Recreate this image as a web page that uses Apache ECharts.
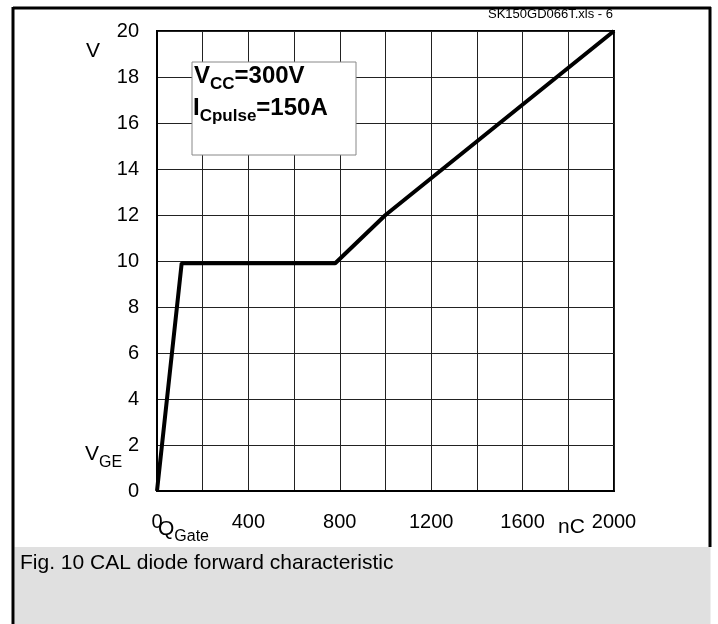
<!DOCTYPE html>
<html>
<head>
<meta charset="utf-8">
<script src="https://cdn.jsdelivr.net/npm/echarts@6/dist/echarts.min.js"></script>
<style>
html,body{margin:0;padding:0;background:#fff;}
#c{width:718px;height:624px;}
</style>
</head>
<body>
<div id="c"></div>
<script>
// Data
const gateCharge = [0, 108, 780, 1000, 2000];      // nC
const gateVoltage = [0, 9.9, 9.9, 12, 20];          // V
const xTickLabels = [0, 400, 800, 1200, 1600, 2000];
const yTickLabels = [0, 2, 4, 6, 8, 10, 12, 14, 16, 18, 20];

const points = gateCharge.map((q, i) => [q, gateVoltage[i]]);
const FONT = '"Liberation Sans", Arial, sans-serif';

const chart = echarts.init(document.getElementById('c'), null, {renderer: 'canvas'});
chart.setOption({
  animation: false,
  backgroundColor: '#fff',
  grid: {left: 157, top: 31, width: 457, height: 460, show: true, borderColor: '#000', borderWidth: 2, backgroundColor: 'transparent'},
  xAxis: {
    type: 'value', min: 0, max: 2000, interval: 200,
    axisLine: {show: true, lineStyle: {color: '#000', width: 2}},
    axisTick: {show: false},
    splitLine: {show: true, lineStyle: {color: '#222', width: 1}},
    axisLabel: {
      fontFamily: FONT, fontSize: 20, color: '#000', margin: 21,
      formatter: v => xTickLabels.indexOf(v) >= 0 ? String(v) : ''
    }
  },
  yAxis: {
    type: 'value', min: 0, max: 20, interval: 2,
    axisLine: {show: true, lineStyle: {color: '#000', width: 2}},
    axisTick: {show: false},
    splitLine: {show: true, lineStyle: {color: '#222', width: 1}},
    axisLabel: {
      fontFamily: FONT, fontSize: 20, color: '#000', margin: 18,
      formatter: v => yTickLabels.indexOf(v) >= 0 ? String(v) : ''
    }
  },
  series: [{
    type: 'line', data: points, symbol: 'none',
    lineStyle: {color: '#000', width: 4}, z: 5
  }],
  graphic: [
    // outer frame
    {type: 'line', shape: {x1: 13, y1: 8, x2: 711, y2: 8}, style: {stroke: '#000', lineWidth: 3}, z: 10},
    {type: 'line', shape: {x1: 13, y1: 7, x2: 13, y2: 624}, style: {stroke: '#000', lineWidth: 3}, z: 10},
    {type: 'line', shape: {x1: 710, y1: 7, x2: 710, y2: 547}, style: {stroke: '#000', lineWidth: 3}, z: 10},
    // caption band
    {type: 'rect', shape: {x: 14.5, y: 547, width: 696, height: 77}, style: {fill: '#e0e0e0'}, z: 1},
    {type: 'text', left: 20, top: 553, style: {text: 'Fig. 10 CAL diode forward characteristic', font: '21px ' + FONT, fill: '#000'}, z: 11},
    // file tag
    {type: 'text', left: 488, top: 8, style: {text: 'SK150GD066T.xls - 6', font: '13px ' + FONT, fill: '#000'}, z: 11},
    // annotation box
    {type: 'rect', shape: {x: 192, y: 62, width: 164, height: 93}, style: {fill: '#fff', stroke: '#888', lineWidth: 1}, z: 20},
    {type: 'text', left: 194, top: 64, z: 21, style: {
      text: '{b|V}{s|CC}{b|=300V}',
      rich: {
        b: {font: 'bold 24px ' + FONT, fill: '#000', verticalAlign: 'bottom', lineHeight: 27},
        s: {font: 'bold 17px ' + FONT, fill: '#000', verticalAlign: 'bottom', padding: [0, 0, -5, 0], lineHeight: 27}
      }
    }},
    {type: 'text', left: 193, top: 96, z: 21, style: {
      text: '{b|I}{s|Cpulse}{b|=150A}',
      rich: {
        b: {font: 'bold 24px ' + FONT, fill: '#000', verticalAlign: 'bottom', lineHeight: 27},
        s: {font: 'bold 17px ' + FONT, fill: '#000', verticalAlign: 'bottom', padding: [0, 0, -5, 0], lineHeight: 27}
      }
    }},
    // axis unit labels
    {type: 'text', left: 86, top: 41, style: {text: 'V', font: '21px ' + FONT, fill: '#000'}, z: 11},
    {type: 'text', left: 85, top: 444, z: 11, style: {
      text: '{a|V}{s|GE}',
      rich: {
        a: {font: '21px ' + FONT, fill: '#000', verticalAlign: 'bottom', lineHeight: 23},
        s: {font: '16px ' + FONT, fill: '#000', verticalAlign: 'bottom', padding: [0, 0, -6, 0], lineHeight: 23}
      }
    }},
    {type: 'text', left: 158, top: 519, z: 11, style: {
      text: '{a|Q}{s|Gate}',
      rich: {
        a: {font: '21px ' + FONT, fill: '#000', verticalAlign: 'bottom', lineHeight: 23},
        s: {font: '16px ' + FONT, fill: '#000', verticalAlign: 'bottom', padding: [0, 0, -5, 0], lineHeight: 23}
      }
    }},
    {type: 'text', left: 558, top: 517, style: {text: 'nC', font: '21px ' + FONT, fill: '#000'}, z: 11}
  ]
});
</script>
</body>
</html>
